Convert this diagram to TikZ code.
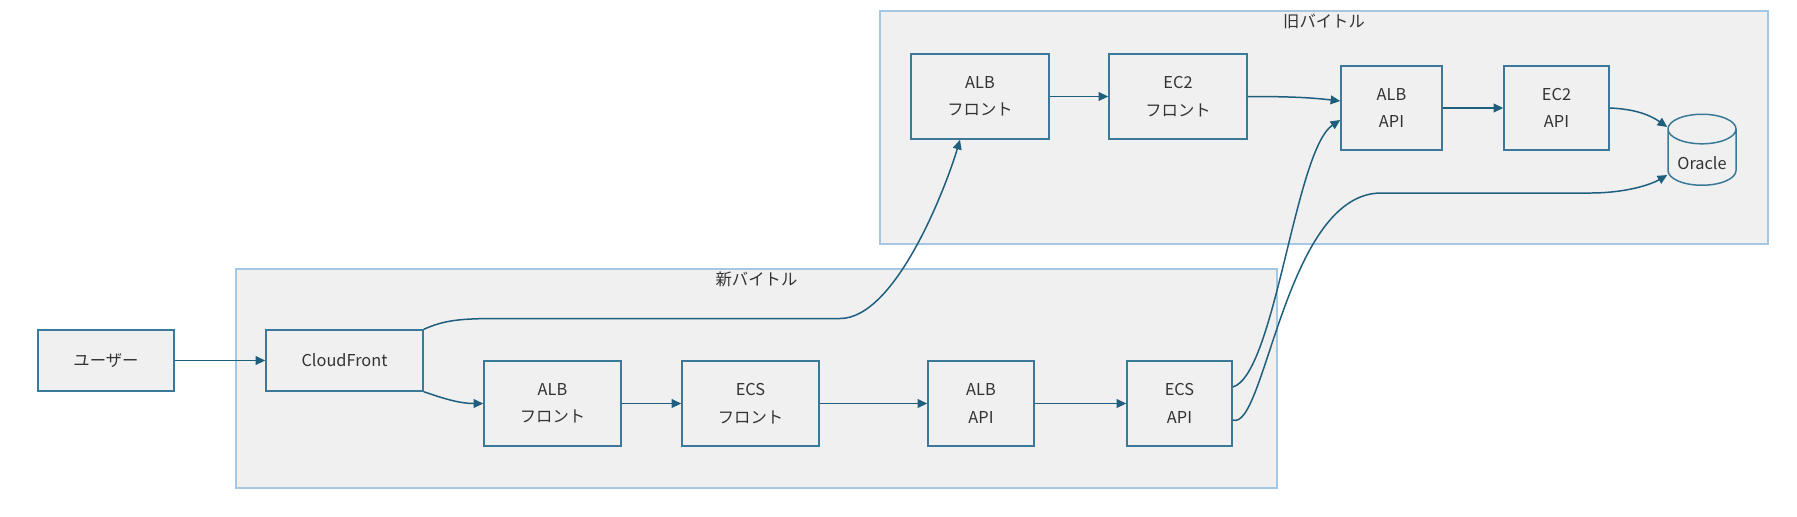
\documentclass[tikz,border=0pt]{standalone}
\usepackage{fontspec}
\setmainfont{Noto Sans CJK JP}
\usepackage{tikz}
\usepackage{xcolor}
\usetikzlibrary{arrows.meta,shapes.geometric}
\definecolor{boxline}{HTML}{3A7A98}
\definecolor{arrowline}{HTML}{1F5F7E}
\definecolor{grpline}{HTML}{A4C8E4}
\definecolor{boxfill}{HTML}{F0F0F0}
\definecolor{txt}{HTML}{333333}

\begin{document}
\begin{tikzpicture}[x=1cm,y=1cm,every node/.style={font=\fontsize{9.3}{15.6}\selectfont,text=txt},
  box/.style={draw=boxline,fill=boxfill,line width=0.85pt,inner sep=0pt,align=center,minimum height=1.7cm},
  grp/.style={draw=grpline,fill=boxfill,line width=0.6pt,inner sep=0pt},
  db/.style={cylinder,shape border rotate=90,aspect=0.6,draw=boxline,fill=boxfill,line width=0.85pt,inner sep=0pt,text height=0.48cm,minimum width=1.36cm,minimum height=1.42cm},
  flow/.style={draw=arrowline,line width=0.85pt,-{Triangle[length=5.5pt,width=5pt]}}]
\useasboundingbox (0,0) rectangle (35.94,-10.32);

\node[grp,minimum width=20.82cm,minimum height=4.38cm] (newgrp) at (15.13,-7.57) {};
\node (newttl) at ([yshift=-0.22cm]newgrp.north) {新バイトル};
\node[grp,minimum width=17.76cm,minimum height=4.66cm] (oldgrp) at (26.48,-2.55) {};
\node (oldttl) at ([yshift=-0.22cm]oldgrp.north) {旧バイトル};

\node[box,minimum width=2.72cm,minimum height=1.22cm] (user) at (2.12,-7.21) {ユーザー};
\node[box,minimum width=3.14cm,minimum height=1.22cm] (cf) at (6.89,-7.21) {CloudFront};
\node[box,minimum width=2.74cm] (albfn) at (11.05,-8.07) {ALB\\フロント};
\node[box,minimum width=2.74cm] (ecsf) at (15.01,-8.07) {ECS\\フロント};
\node[box,minimum width=2.12cm] (alban) at (19.62,-8.07) {ALB\\API};
\node[box,minimum width=2.10cm] (ecsa) at (23.59,-8.07) {ECS\\API};

\node[box,minimum width=2.76cm] (albfo) at (19.6,-1.93) {ALB\\フロント};
\node[box,minimum width=2.76cm] (ec2f) at (23.56,-1.93) {EC2\\フロント};
\node[box,minimum width=2.02cm,minimum height=1.68cm] (albao) at (27.83,-2.16) {ALB\\API};
\node[box,minimum width=2.10cm,minimum height=1.68cm] (ec2a) at (31.13,-2.16) {EC2\\API};
\node[db] (oracle) at (34.04,-3.15) {Oracle};

\draw[flow] (user) -- (cf);
\draw[flow] (cf.south east) .. controls (8.9,-7.98) and (9.2,-8.07) .. (albfn.west);
\draw[flow] (cf.north east) .. controls (8.9,-6.4) and (9.2,-6.37) .. (10.0,-6.37) -- (16.8,-6.37)
  .. controls (17.9,-6.37) and (18.9,-3.8) .. ([xshift=-0.4cm]albfo.south);
\draw[flow] (albfn) -- (ecsf);
\draw[flow] (ecsf) -- (alban);
\draw[flow] (alban) -- (ecsa);
\draw[flow] ([yshift=0.33cm]ecsa.east) .. controls (25.5,-7.5) and (25.9,-3.0) .. ([yshift=-0.24cm]albao.west);
\draw[flow] ([yshift=-0.33cm]ecsa.east) .. controls (25.3,-8.64) and (25.7,-3.9) .. (27.6,-3.86) -- (31.8,-3.86)
  .. controls (32.5,-3.86) and (33.0,-3.7) .. ([yshift=-0.35cm]oracle.west);
\draw[flow] (albfo) -- (ec2f);
\draw[flow] (ec2f.east) .. controls (25.8,-1.93) and (26.2,-1.95) .. ([yshift=0.14cm]albao.west);
\draw[flow] (albao) -- (ec2a);
\draw[flow] (ec2a.east) .. controls (32.7,-2.18) and (33.0,-2.3) .. ([yshift=0.61cm]oracle.west);
\end{tikzpicture}
\end{document}
